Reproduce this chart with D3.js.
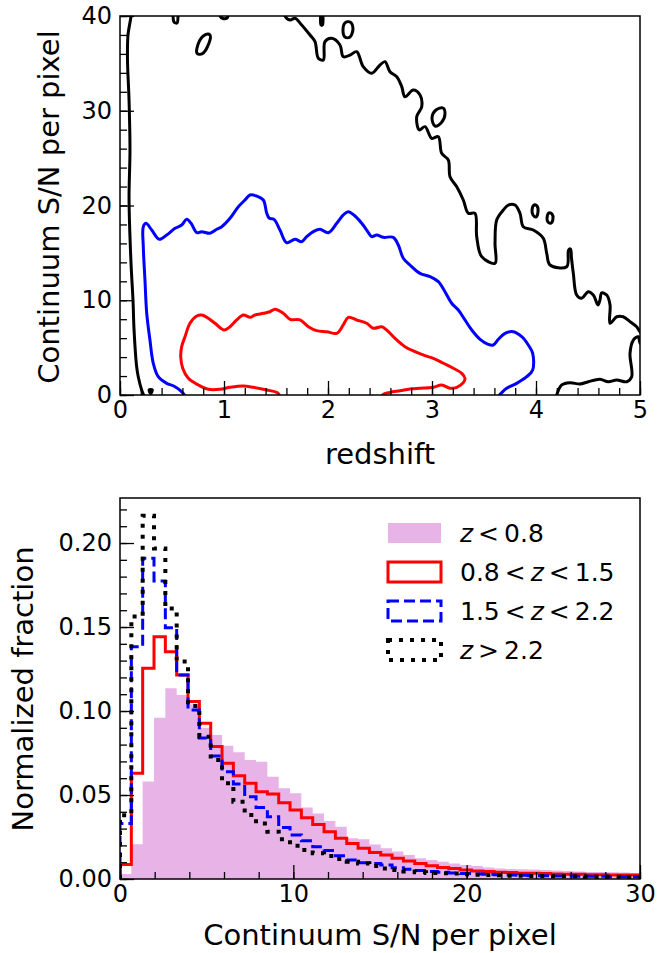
<!DOCTYPE html>
<html><head><meta charset="utf-8">
<script src="https://cdn.jsdelivr.net/npm/d3@7"></script>
<style>
body{margin:0;background:#fff}
text{font-family:"DejaVu Sans",sans-serif;fill:#000}
</style>
</head><body>
<svg id="c" width="660" height="953"></svg>
<script>
// ---------------- DATA ----------------
// Top panel: contour lines in (redshift, continuum S/N) coordinates
const blackLeft = [[0.106,40.5],[0.106,40],[0.077,38.0],[0.072,35.4],[0.087,31.1],[0.096,25.9],[0.087,20.6],[0.106,13.9],[0.125,10.0],[0.135,6.9],[0.160,3.0],[0.176,1.9],[0.209,0.5],[0.226,0],[0.23,-0.5]];
const blackTop = [[1.587,40.5],[1.587,40.0],[1.635,39.58],[1.683,39.76],[1.747,39.05],[1.827,37.99],[1.875,37.29],[1.907,35.54],[1.955,35.36],[1.971,37.29],[2.036,37.65],[2.115,36.94],[2.147,35.70],[2.212,35.88],[2.276,36.23],[2.339,34.65],[2.420,33.95],[2.500,34.83],[2.548,35.18],[2.596,34.12],[2.661,33.59],[2.709,32.54],[2.740,31.48],[2.820,32.19],[2.885,31.66],[2.901,30.43],[2.853,29.37],[2.878,27.97],[2.933,28.32],[2.997,27.09],[3.061,27.26],[3.093,25.51],[3.157,24.80],[3.173,23.04],[3.238,21.98],[3.301,20.58],[3.349,19.18],[3.413,19.18],[3.430,16.71],[3.478,14.60],[3.606,13.90],[3.606,16.01],[3.622,18.47],[3.686,19.53],[3.734,20.05],[3.798,20.05],[3.846,19.18],[3.878,17.76],[3.974,17.41],[4.070,16.54],[4.103,14.96],[4.135,13.72],[4.295,13.54],[4.313,15.30],[4.332,15.41],[4.341,14.46],[4.359,12.84],[4.391,10.55],[4.439,10.21],[4.503,10.90],[4.551,10.55],[4.596,9.50],[4.615,10.03],[4.632,10.77],[4.680,10.55],[4.712,9.50],[4.712,7.57],[4.776,8.26],[4.839,8.26],[4.904,7.74],[4.968,7.21],[5.0,6.68],[5.05,6.3]];
const blackBottomRight = [[4.19,-0.5],[4.199,0],[4.247,1.06],[4.327,1.30],[4.423,1.16],[4.503,1.40],[4.615,1.66],[4.695,1.40],[4.776,1.58],[4.872,1.40],[4.920,1.93],[4.904,4.40],[4.936,5.80],[4.984,6.15],[5.0,5.49],[5.05,5.0]];
const blackEdgeBits = [
  [[0.510,40.5],[0.510,40],[0.519,39.37],[0.548,39.26],[0.558,40],[0.558,40.5]],
  [[0.962,40.5],[0.962,40],[0.990,39.74],[1.029,39.79],[1.038,40],[1.038,40.5]],
  [[1.928,40.5],[1.928,40],[1.933,39.05],[1.947,39.05],[1.952,40],[1.952,40.5]]
];
const blackLoops = [
  [[0.740,36.09],[0.760,37.26],[0.817,38.0],[0.865,38.0],[0.856,37.15],[0.788,35.99]],
  [[2.144,38.52],[2.163,39.26],[2.212,39.37],[2.240,38.73],[2.212,37.78],[2.163,37.78]],
  [[3.000,29.24],[3.038,30.08],[3.106,30.29],[3.125,29.66],[3.087,28.71],[3.029,28.39]],
  [[3.962,19.53],[3.981,20.05],[4.010,19.95],[4.019,19.31],[4.000,18.79],[3.971,19.00]],
  [[4.106,18.68],[4.125,19.21],[4.154,19.10],[4.163,18.58],[4.144,18.15],[4.115,18.26]],
  [[0.280,0.55],[0.310,0.55],[0.295,0.15]]
];
const blueContour = [[0.63,-0.5],[0.620,0],[0.529,0.88],[0.449,1.23],[0.368,1.93],[0.320,3.35],[0.288,5.80],[0.257,8.62],[0.240,12.14],[0.224,15.65],[0.224,17.76],[0.250,18.12],[0.305,17.41],[0.378,16.43],[0.449,16.89],[0.529,17.59],[0.593,17.94],[0.641,18.54],[0.683,18.12],[0.738,17.13],[0.786,17.24],[0.865,17.07],[0.930,17.49],[0.978,17.76],[1.058,18.65],[1.138,19.87],[1.202,20.58],[1.250,21.11],[1.314,21.00],[1.378,20.58],[1.411,19.18],[1.436,18.65],[1.481,18.54],[1.538,17.41],[1.603,16.07],[1.683,16.43],[1.747,16.18],[1.795,16.71],[1.859,17.24],[1.923,17.49],[2.003,17.13],[2.084,18.12],[2.147,19.00],[2.195,19.35],[2.260,18.89],[2.324,18.12],[2.372,17.41],[2.420,16.71],[2.468,16.89],[2.532,16.64],[2.628,16.64],[2.676,15.83],[2.724,14.43],[2.788,13.72],[2.885,12.84],[2.981,12.49],[3.061,11.96],[3.125,10.90],[3.189,9.68],[3.253,8.97],[3.317,7.92],[3.382,6.86],[3.462,5.88],[3.541,5.35],[3.589,5.28],[3.638,5.88],[3.702,6.51],[3.782,6.68],[3.863,6.15],[3.926,5.28],[3.968,4.40],[3.968,2.64],[3.911,1.93],[3.814,1.23],[3.718,0.71],[3.670,0.24],[3.649,0],[3.63,-0.5]];
const redContour = [[1.535,-0.4],[1.529,0.05],[1.507,0.28],[1.411,0.53],[1.282,0.81],[1.186,0.95],[1.058,0.81],[0.962,0.60],[0.849,0.60],[0.753,1.06],[0.657,1.76],[0.603,2.82],[0.584,4.04],[0.593,5.10],[0.625,6.15],[0.673,7.57],[0.738,8.34],[0.786,8.44],[0.834,8.20],[0.913,7.57],[1.0,6.86],[1.058,7.21],[1.122,7.92],[1.186,8.44],[1.250,8.20],[1.298,8.44],[1.378,8.62],[1.442,8.79],[1.490,9.04],[1.570,8.62],[1.635,7.99],[1.731,7.92],[1.811,7.21],[1.891,6.79],[1.988,6.68],[2.084,6.51],[2.147,7.39],[2.195,8.20],[2.276,7.92],[2.372,7.57],[2.436,7.04],[2.516,7.21],[2.564,6.86],[2.644,5.98],[2.740,5.10],[2.837,4.57],[2.933,4.15],[3.013,3.87],[3.109,3.35],[3.205,2.82],[3.286,2.29],[3.317,1.76],[3.301,1.30],[3.238,0.81],[3.173,0.71],[3.093,1.06],[3.013,0.81],[2.885,0.71],[2.805,0.66],[2.692,0.45],[2.596,0.28],[2.529,0.05],[2.52,-0.4]];

// Bottom panel: normalized histograms (bin width in S/N units)
const binWidth = 0.654;
const histZlt08 = [0.003,0.0207,0.058,0.096,0.1135,0.1095,0.104,0.090,0.0857,0.0793,0.0754,0.0708,0.0698,0.0609,0.054,0.051,0.0425,0.039,0.0345,0.0311,0.0242,0.0236,0.0206,0.0183,0.0163,0.0143,0.0123,0.0113,0.0103,0.0093,0.0083,0.0077,0.0069,0.0063,0.006,0.0058,0.0056,0.0054,0.005,0.0048,0.0044,0.0042,0.0041,0.004,0.0038,0.0034];
const histZ08to15 = [0.0087,0.0629,0.1254,0.1442,0.1353,0.1214,0.1056,0.0927,0.0788,0.0689,0.0615,0.057,0.052,0.0506,0.0454,0.0411,0.0365,0.0325,0.0282,0.0242,0.0212,0.0183,0.0158,0.0143,0.0123,0.0107,0.0093,0.0079,0.0069,0.0062,0.0054,0.0048,0.0044,0.004,0.0038,0.0034,0.0034,0.0032,0.003,0.0028,0.0028,0.0026,0.0026,0.0024,0.0024,0.0024];
const histZ15to22 = [0.0331,0.1383,0.1909,0.1774,0.1496,0.1214,0.1006,0.084,0.0732,0.0639,0.0565,0.049,0.0425,0.0371,0.0306,0.0262,0.0228,0.0192,0.0169,0.0139,0.0113,0.0097,0.0093,0.0083,0.0067,0.0058,0.005,0.0044,0.004,0.0036,0.0032,0.003,0.0028,0.0026,0.0024,0.0022,0.002,0.002,0.0018,0.0018,0.0016,0.0016,0.0016,0.0014,0.0014,0.0014];
const histZgt22 = [0.038,0.1562,0.2163,0.1968,0.161,0.1294,0.103,0.0847,0.0708,0.057,0.046,0.0381,0.0331,0.0282,0.0236,0.0198,0.0173,0.0153,0.0137,0.0119,0.0103,0.0093,0.0077,0.0063,0.0054,0.0044,0.004,0.0036,0.0034,0.0032,0.0028,0.0026,0.0024,0.0022,0.002,0.002,0.0018,0.0018,0.0016,0.0016,0.0016,0.0014,0.0014,0.0014,0.0012,0.0012];

// Tick values and labels
const topXMajor = [0,1,2,3,4,5];
const topYMajor = [0,10,20,30,40];
const botXMajor = [0,10,20,30];
const botYMajor = [0,0.05,0.10,0.15,0.20];
const legendLabels = [
  [{t:"z",i:1},{t:"\u2009<\u20090.8"}],
  [{t:"0.8\u2009<\u2009"},{t:"z",i:1},{t:"\u2009<\u20091.5"}],
  [{t:"1.5\u2009<\u2009"},{t:"z",i:1},{t:"\u2009<\u20092.2"}],
  [{t:"z",i:1},{t:"\u2009>\u20092.2"}]
];

// ---------------- DRAW ----------------
const svg = d3.select("#c");
svg.append("rect").attr("width",660).attr("height",953).attr("fill","#fff");
const defs = svg.append("defs");

function axes(g, x, y, xMaj, xMin, yMaj, yMin, xFmt, yFmt){
  const style = sel => { sel.select(".domain").remove();
    sel.selectAll("line").attr("stroke","#000").attr("stroke-width",1.3);
    sel.selectAll("text").attr("font-size",24).attr("font-family","DejaVu Sans").attr("fill","#000"); };
  const yb = y.range()[0], xl = x.range()[0];
  g.append("g").attr("transform",`translate(0,${yb})`).call(d3.axisBottom(x).tickValues(xMin).tickSize(-7).tickSizeOuter(0).tickFormat("")).call(style);
  g.append("g").attr("transform",`translate(0,${yb})`).call(d3.axisBottom(x).tickValues(xMaj).tickSize(-14).tickSizeOuter(0).tickPadding(6).tickFormat(xFmt)).call(style);
  g.append("g").attr("transform",`translate(${xl},0)`).call(d3.axisLeft(y).tickValues(yMin).tickSize(-7).tickSizeOuter(0).tickFormat("")).call(style);
  g.append("g").attr("transform",`translate(${xl},0)`).call(d3.axisLeft(y).tickValues(yMaj).tickSize(-14).tickSizeOuter(0).tickPadding(8).tickFormat(yFmt)).call(style);
  g.append("rect").attr("x",x.range()[0]).attr("y",y.range()[1]).attr("width",x.range()[1]-x.range()[0]).attr("height",y.range()[0]-y.range()[1])
    .attr("fill","none").attr("stroke","#000").attr("stroke-width",1.5);
}

// ---- Top panel ----
const xT = d3.scaleLinear().domain([0,5]).range([120,640]);
const yT = d3.scaleLinear().domain([0,40]).range([395,16]);
defs.append("clipPath").attr("id","clipT").append("rect").attr("x",120).attr("y",16).attr("width",520).attr("height",379);
const gT = svg.append("g");
const cont = gT.append("g").attr("clip-path","url(#clipT)").attr("fill","none").attr("stroke-width",3).attr("stroke-linejoin","round").attr("stroke-linecap","round");
const lineT = d3.line().x(d=>xT(d[0])).y(d=>yT(d[1])).curve(d3.curveCatmullRom.alpha(0.5));
const loopT = d3.line().x(d=>xT(d[0])).y(d=>yT(d[1])).curve(d3.curveCatmullRomClosed.alpha(0.5));
[blackLeft, blackTop, blackBottomRight, ...blackEdgeBits].forEach(s=>cont.append("path").attr("d",lineT(s)).attr("stroke","#000"));
blackLoops.forEach(s=>cont.append("path").attr("d",loopT(s)).attr("stroke","#000"));
cont.append("path").attr("d",lineT(blueContour)).attr("stroke","#0000ff");
cont.append("path").attr("d",lineT(redContour)).attr("stroke","#ff0000");
axes(gT, xT, yT, topXMajor, d3.range(0,5.001,0.2).map(v=>+v.toFixed(1)), topYMajor, d3.range(0,41,2), d=>d, d=>d);
gT.append("text").attr("x",380).attr("y",464).attr("text-anchor","middle").attr("font-size",29).text("redshift");
gT.append("text").attr("transform","translate(59,207) rotate(-90)").attr("text-anchor","middle").attr("font-size",29).text("Continuum S/N per pixel");

// ---- Bottom panel ----
const xB = d3.scaleLinear().domain([0,30]).range([120,640]);
const yB = d3.scaleLinear().domain([0,0.2268]).range([879,498]);
defs.append("clipPath").attr("id","clipB").append("rect").attr("x",120).attr("y",498).attr("width",520).attr("height",381);
const gB = svg.append("g");
const hg = gB.append("g").attr("clip-path","url(#clipB)");
function stepPts(vals){ const p=[[0,0]]; vals.forEach((v,i)=>{p.push([i*binWidth,v]);p.push([(i+1)*binWidth,v]);}); p.push([vals.length*binWidth,0]); return p; }
const areaB = d3.area().x(d=>xB(d[0])).y0(yB(0)).y1(d=>yB(d[1]));
const lineB = d3.line().x(d=>xB(d[0])).y(d=>yB(d[1]));
const pink = "#e8b4e8";
hg.append("path").attr("d",areaB(stepPts(histZlt08))).attr("fill",pink);
hg.append("path").attr("d",lineB(stepPts(histZ08to15))).attr("fill","none").attr("stroke","#ff0000").attr("stroke-width",3);
hg.append("path").attr("d",lineB(stepPts(histZ15to22))).attr("fill","none").attr("stroke","#0000ff").attr("stroke-width",3).attr("stroke-dasharray","11 5");
hg.append("path").attr("d",lineB(stepPts(histZgt22))).attr("fill","none").attr("stroke","#000").attr("stroke-width",4).attr("stroke-dasharray","4 7");
axes(gB, xB, yB, botXMajor, d3.range(0,31,2), botYMajor, d3.range(0,0.2268,0.01).map(v=>+v.toFixed(2)), d=>d, d3.format(".2f"));
gB.append("text").attr("x",380).attr("y",945).attr("text-anchor","middle").attr("font-size",29).text("Continuum S/N per pixel");
gB.append("text").attr("transform","translate(33,689) rotate(-90)").attr("text-anchor","middle").attr("font-size",29).text("Normalized fraction");

// legend
const lg = gB.append("g");
const styles = [
  {fill:pink, stroke:"none"},
  {fill:"none", stroke:"#ff0000", dash:null, w:3},
  {fill:"none", stroke:"#0000ff", dash:"11 5", w:3},
  {fill:"none", stroke:"#000", dash:"4 7", w:4}
];
legendLabels.forEach((lab,i)=>{
  const cy = 533 + i*39;
  const s = styles[i];
  const r = lg.append("rect").attr("x",388).attr("y",cy-10).attr("width",53).attr("height",20).attr("fill",s.fill).attr("stroke",s.stroke);
  if(s.w) r.attr("stroke-width",s.w);
  if(s.dash) r.attr("stroke-dasharray",s.dash);
  const t = lg.append("text").attr("x",460).attr("y",cy+9).attr("font-size",25).style("white-space","pre");
  lab.forEach(p=>{ const ts=t.append("tspan").text(p.t); if(p.i) ts.attr("font-style","italic"); });
});
</script>
</body></html>
